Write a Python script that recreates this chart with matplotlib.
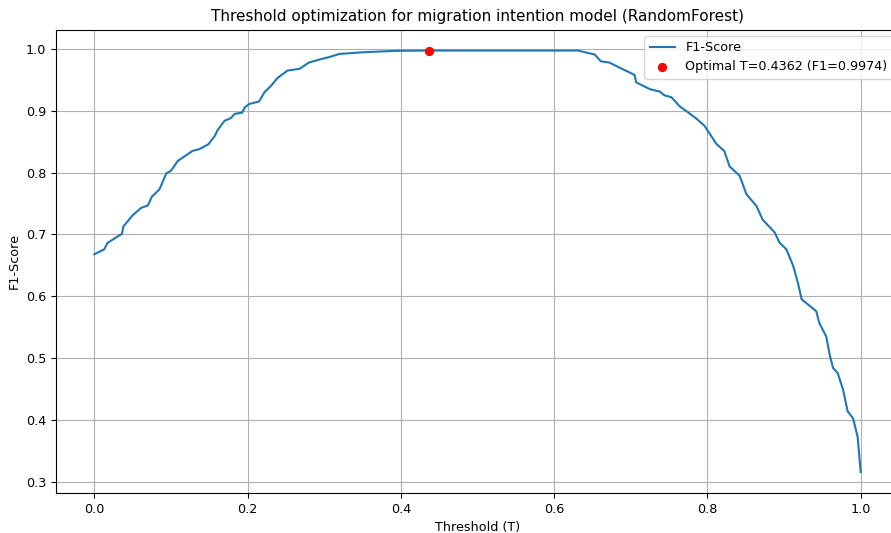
import matplotlib
matplotlib.use("Agg")
import matplotlib.pyplot as plt

# progi i odpowiadające im wartości F1
progi = [0.0, 0.013, 0.017, 0.028, 0.036, 0.038, 0.05, 0.061, 0.070, 0.075,
         0.085, 0.094, 0.100, 0.109, 0.115, 0.128, 0.137, 0.149, 0.157, 0.161,
         0.170, 0.178, 0.183, 0.193, 0.196, 0.202, 0.215, 0.222, 0.231, 0.239,
         0.252, 0.268, 0.280, 0.294, 0.307, 0.320, 0.350, 0.394, 0.4362, 0.50,
         0.58, 0.631, 0.653, 0.661, 0.672, 0.685, 0.705, 0.707, 0.725, 0.738,
         0.744, 0.753, 0.764, 0.772, 0.786, 0.796, 0.803, 0.812, 0.822, 0.829,
         0.842, 0.851, 0.864, 0.872, 0.888, 0.894, 0.903, 0.912, 0.918, 0.923,
         0.942, 0.946, 0.955, 0.960, 0.964, 0.970, 0.977, 0.983, 0.990, 0.996,
         1.0]
f1 = [0.668, 0.676, 0.686, 0.695, 0.701, 0.713, 0.731, 0.743, 0.747, 0.761,
      0.773, 0.799, 0.803, 0.819, 0.824, 0.835, 0.838, 0.846, 0.859, 0.869,
      0.884, 0.888, 0.895, 0.897, 0.905, 0.911, 0.915, 0.930, 0.941, 0.953,
      0.965, 0.968, 0.978, 0.983, 0.987, 0.992, 0.9946, 0.9970, 0.9974, 0.9974,
      0.9974, 0.9974, 0.991, 0.980, 0.978, 0.970, 0.958, 0.946, 0.935, 0.931,
      0.925, 0.922, 0.907, 0.900, 0.887, 0.876, 0.863, 0.846, 0.835, 0.810,
      0.795, 0.765, 0.746, 0.724, 0.703, 0.687, 0.676, 0.649, 0.622, 0.595,
      0.576, 0.557, 0.535, 0.503, 0.484, 0.476, 0.449, 0.414, 0.403, 0.373,
      0.316]

opt_t = 0.4362
opt_f1 = 0.9974

# oryginał wygląda na lekko pomniejszony, więc czcionki trochę mniejsze
plt.rcParams['font.size'] = 9.2
plt.rcParams['axes.titlesize'] = 11

fig = plt.figure(figsize=(8.91, 5.33), dpi=100)
# osie wychodzą trochę poza prawą krawędź, jak w oryginale
ax = fig.add_axes([56 / 891, 40 / 533, 843 / 891, 463.5 / 533])

ax.plot(progi, f1, label='F1-Score')
ax.scatter([opt_t], [opt_f1], color='red', s=32, zorder=5,
           label=f'Optimal T={opt_t:.4f} (F1={opt_f1:.4f})')
ax.set_title("Threshold optimization for migration intention model (RandomForest)")
ax.set_xlabel("Threshold (T)")
ax.set_ylabel("F1-Score")
ax.grid(True)
ax.legend(loc='upper right')

fig.savefig("out.png", dpi=100)
